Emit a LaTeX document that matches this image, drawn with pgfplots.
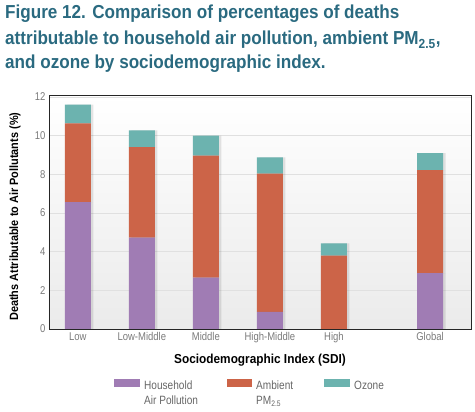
\documentclass[border=0pt]{standalone}
\usepackage{fontspec}
\setmainfont[FakeStretch=0.84]{Liberation Sans}
\newfontfamily\headfont[FakeStretch=0.91]{Liberation Sans}
\usepackage{pgfplots}
\pgfplotsset{compat=1.18}
\usetikzlibrary{shadows}
\definecolor{hap}{HTML}{A07CB4}
\definecolor{pm}{HTML}{CC6448}
\definecolor{oz}{HTML}{6CB3AF}
\definecolor{ttl}{HTML}{2A6A80}
\definecolor{tickc}{HTML}{7A7A7A}
\begin{document}
\begin{tikzpicture}
\useasboundingbox (-49pt,-83pt) rectangle (426pt,329pt);
\begin{axis}[
  at={(0pt,0pt)}, anchor=south west,
  width=422pt, height=234pt, scale only axis,
  xmin=-0.45, xmax=6.14, ymin=0, ymax=12.1,
  ybar stacked, bar width=0.406,
  xtick={0,1,2,3,4,5.5},
  xticklabels={Low,Low-Middle,Middle,High-Middle,High,Global},
  ytick={0,2,...,12},
  ymajorgrids, grid style={draw=black!12, line width=0.6pt},
  major tick length=0pt,
  tick label style={font=\fontsize{11.3}{13}\selectfont, text=tickc},
  /pgf/number format/assume math mode=true,
  axis line style={draw=black!85, line width=0.9pt},
  axis background/.style={top color=white, bottom color=black!8},
  xlabel={Sociodemographic Index (SDI)},
  xlabel style={font=\headfont\bfseries\fontsize{13}{15}\selectfont, at={(rel axis cs:0.5,0)}, anchor=center, yshift=-31pt},
  ylabel={Deaths Attributable to Air Pollutants (\%)},
  ylabel style={font=\headfont\bfseries\fontsize{12}{14}\selectfont, at={(rel axis cs:-0.0806,0.48)}, anchor=center},
  barshadow/.style={drop shadow={shadow xshift=2.5pt, shadow yshift=0pt, opacity=0.10, fill=black}},
]
\addplot[fill=hap, draw=none, barshadow] coordinates {(0,6.56) (1,4.72) (2,2.65) (3,0.88) (4,0) (5.5,2.89)};
\addplot[fill=pm, draw=none, barshadow] coordinates {(0,4.07) (1,4.68) (2,6.32) (3,7.15) (4,3.79) (5.5,5.33)};
\addplot[fill=oz, draw=none, barshadow] coordinates {(0,0.97) (1,0.87) (2,1.03) (3,0.84) (4,0.64) (5.5,0.88)};
\end{axis}
% title
\begin{scope}[every node/.style={anchor=base west, text=ttl, inner sep=0pt, font=\headfont\bfseries\fontsize{18.8}{25.5}\selectfont}]
\node at (-44pt,310.5pt) {Figure 12. Comparison of percentages of deaths};
\node at (-44pt,284pt) {attributable to household air pollution, ambient PM\textsubscript{2.5},};
\node at (-44pt,260.5pt) {and ozone by sociodemographic index.};
\end{scope}
% legend
\fill[hap] (65.3pt,-50.3pt) rectangle (91pt,-58.3pt);
\fill[pm] (177.7pt,-50.3pt) rectangle (203.3pt,-58.3pt);
\fill[oz] (275pt,-50.3pt) rectangle (301pt,-58.3pt);
\begin{scope}[every node/.style={anchor=base west, inner sep=0pt, text=black!60, font=\fontsize{12}{14}\selectfont}]
\node at (95pt,-60.3pt) {Household};
\node at (95pt,-76pt) {Air Pollution};
\node at (207pt,-60.3pt) {Ambient};
\node at (207pt,-76pt) {PM\textsubscript{2.5}};
\node at (305pt,-60.3pt) {Ozone};
\end{scope}
\end{tikzpicture}
\end{document}
